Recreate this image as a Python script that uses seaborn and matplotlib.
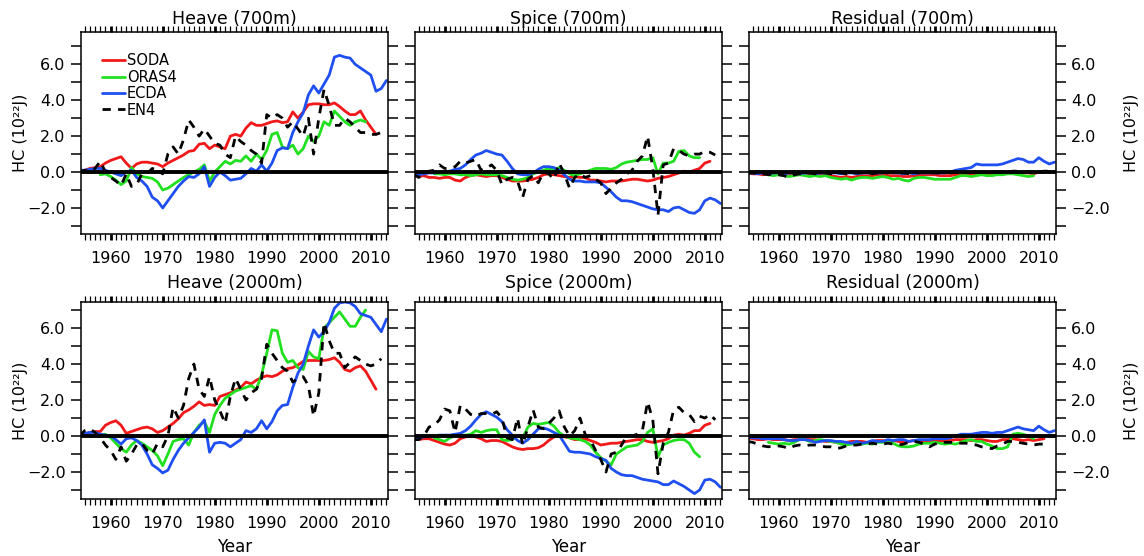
import numpy as np
import pandas as pd
import matplotlib
matplotlib.use('Agg')  # no display in the sandbox
import matplotlib.pyplot as plt
from matplotlib.ticker import MultipleLocator, FuncFormatter
import seaborn as sns

# year axes of each product
SODA_YEARS = np.arange(1954, 2012)
ORAS4_YEARS = np.arange(1958, 2010)
ECDA_YEARS = np.arange(1954, 2014)
EN4_YEARS = np.arange(1954, 2013)

PRODUCTS = ['SODA', 'ORAS4', 'ECDA', 'EN4']
COLORS = {'SODA': '#f01818', 'ORAS4': '#20e020', 'ECDA': '#1f4ff0', 'EN4': '#000000'}

# ---- Heave (700m) ----
heave700_soda = [0.0, 0.1, 0.2, 0.25, 0.3, 0.5,
                 0.65, 0.75, 0.85, 0.5, 0.2, 0.45, 0.55, 0.55, 0.5, 0.45,
                 0.3, 0.5, 0.65, 0.8, 0.95, 1.15, 1.2, 1.55, 1.6, 1.3,
                 1.5, 1.4, 1.3, 2.0, 2.1, 2.0, 2.45, 2.75, 2.6, 2.6,
                 2.7, 2.8, 2.85, 2.75, 2.8, 3.35, 3.0, 3.35, 3.75, 3.8,
                 3.8, 3.75, 3.75, 3.85, 3.65, 3.4, 3.2, 3.2, 3.4, 2.9,
                 2.5, 2.1]
heave700_oras4 = [-0.15, -0.1,
                  -0.25, -0.45, -0.7, -0.5, 0.25, -0.1, -0.25, -0.3, -0.35, -0.55,
                  -1.0, -0.9, -0.7, -0.5, -0.3, -0.15, 0.0, 0.15, 0.4, -0.5,
                  0.0, 0.3, 0.6, 0.45, 0.65, 0.6, 0.9, 0.6, 1.0, 0.7,
                  1.2, 2.1, 2.2, 1.4, 1.3, 1.5, 1.0, 1.3, 2.0, 1.7,
                  2.0, 2.8, 2.6, 3.4, 3.1, 2.8, 2.6, 2.8, 2.9, 2.8]
heave700_ecda = [0.1, 0.1, 0.15, 0.2, 0.2, 0.1,
                 0.0, -0.1, -0.2, 0.0, 0.1, -0.3, -0.5, -0.8, -1.4, -1.6,
                 -2.0, -1.6, -1.2, -0.8, -0.5, -0.25, -0.3, -0.1, 0.3, -0.8,
                 -0.3, 0.0, -0.2, -0.45, -0.4, -0.35, -0.1, 0.2, 0.05, 0.4,
                 0.05, 0.5, 1.2, 1.35, 1.3, 2.2, 2.8, 3.3, 4.3, 4.8,
                 4.4, 4.9, 5.4, 6.4, 6.5, 6.4, 6.35, 6.0, 5.8, 5.6,
                 5.4, 4.5, 4.65, 5.1]
heave700_en4 = [0.0, 0.1, 0.0, 0.2, 0.6, 0.0,
                -0.3, -0.5, -0.75, -0.1, -0.8, -0.7, -0.1, -0.1, 0.2, 0.1,
                -0.1, 1.0, 1.4, 1.0, 1.8, 2.9, 2.5, 2.0, 2.4, 2.0,
                1.6, 1.5, 1.0, 0.8, 2.0, 1.7, 1.5, 1.2, 1.0, 0.5,
                3.2, 3.0, 3.2, 3.0, 2.5, 2.8, 2.4, 2.0, 3.0, 1.0,
                3.0, 4.6, 3.7, 2.6, 2.6, 3.0, 2.8, 2.5, 2.2, 2.2,
                2.1, 2.1, 2.2]

# ---- Spice (700m) ----
spice700_soda = [-0.2, -0.25, -0.2, -0.3, -0.3, -0.35,
                 -0.3, -0.3, -0.45, -0.5, -0.3, -0.2, -0.15, -0.2, -0.25, -0.2,
                 -0.2, -0.3, -0.4, -0.5, -0.5, -0.5, -0.45, -0.4, -0.3, -0.15,
                 -0.1, -0.15, -0.2, -0.25, -0.3, -0.25, -0.3, -0.3, -0.45, -0.45,
                 -0.5, -0.55, -0.5, -0.5, -0.5, -0.45, -0.4, -0.4, -0.45, -0.5,
                 -0.45, -0.35, -0.3, -0.25, -0.15, -0.05, 0.05, 0.0, 0.1, 0.2,
                 0.5, 0.6]
spice700_oras4 = [-0.1, -0.1,
                  -0.15, -0.1, -0.1, -0.15, -0.15, -0.2, -0.15, -0.1, -0.15, -0.15,
                  -0.15, -0.2, -0.3, -0.4, -0.45, -0.4, -0.3, -0.1, 0.0, 0.1,
                  0.2, 0.1, 0.25, 0.1, -0.1, -0.2, -0.1, 0.0, 0.1, 0.2,
                  0.2, 0.2, 0.15, 0.25, 0.45, 0.55, 0.6, 0.65, 0.7, 0.7,
                  0.8, -0.1, 0.5, 0.5, 0.6, 1.15, 1.2, 0.9, 0.8, 0.8]
spice700_ecda = [-0.1, -0.15, -0.1, -0.05, -0.05, 0.0,
                 0.0, 0.05, 0.15, 0.2, 0.4, 0.7, 0.95, 1.05, 1.2, 1.1,
                 1.0, 0.95, 0.6, 0.2, -0.1, -0.15, -0.15, -0.05, 0.15, 0.3,
                 0.3, 0.25, 0.1, -0.15, -0.4, -0.5, -0.5, -0.55, -0.55, -0.55,
                 -0.6, -0.85, -1.1, -1.4, -1.6, -1.6, -1.65, -1.75, -1.85, -1.95,
                 -2.05, -2.1, -2.1, -2.2, -2.0, -1.95, -2.1, -2.25, -2.3, -2.1,
                 -1.6, -1.45, -1.55, -1.75]
spice700_en4 = [-0.1, -0.3, -0.1, 0.05, 0.1, 0.4,
                0.2, 0.2, 0.3, 0.6, 0.5, 0.6, 0.7, 0.1, 0.2, 0.4,
                0.1, -0.7, -0.4, -0.3, -0.5, -1.4, -0.4, -0.2, -0.6, 0.0,
                -0.1, -0.4, 0.5, -0.1, -0.9, -0.3, -0.1, -0.3, -0.2, -0.4,
                -0.6, -1.2, -0.9, -0.6, -0.4, -0.1, 0.1, 0.6, 0.9, 2.0,
                0.2, -2.4, 0.4, 0.5, 1.3, 1.2, 1.0, 0.9, 1.0, 1.0,
                1.15, 1.1, 0.95]

# ---- Residual (700m) ----
resid700_soda = [-0.05, -0.1, -0.1, -0.15, -0.1, -0.1,
                 -0.1, -0.15, -0.15, -0.1, -0.1, -0.1, -0.15, -0.1, -0.1, -0.15,
                 -0.2, -0.25, -0.3, -0.25, -0.3, -0.25, -0.2, -0.2, -0.2, -0.15,
                 -0.15, -0.2, -0.2, -0.2, -0.25, -0.25, -0.2, -0.2, -0.15, -0.15,
                 -0.15, -0.2, -0.2, -0.2, -0.15, -0.15, -0.1, -0.1, -0.1, -0.1,
                 -0.1, -0.1, -0.1, -0.1, -0.05, -0.05, -0.1, -0.05, -0.05, -0.1,
                 0.0, 0.0]
resid700_oras4 = [-0.15, -0.2,
                  -0.15, -0.2, -0.25, -0.2, -0.15, -0.2, -0.25, -0.2, -0.25, -0.2,
                  -0.3, -0.35, -0.4, -0.35, -0.45, -0.35, -0.3, -0.3, -0.35, -0.3,
                  -0.25, -0.3, -0.4, -0.35, -0.45, -0.5, -0.35, -0.3, -0.3, -0.35,
                  -0.4, -0.4, -0.4, -0.4, -0.3, -0.2, -0.2, -0.25, -0.2, -0.15,
                  -0.2, -0.2, -0.15, -0.15, -0.1, -0.1, -0.15, -0.2, -0.25, -0.2]
resid700_ecda = [-0.05, -0.05, -0.1, -0.05, -0.1, -0.05,
                 -0.05, -0.1, -0.05, -0.05, -0.1, -0.05, -0.05, -0.1, -0.05, -0.05,
                 -0.05, -0.05, -0.1, -0.05, -0.05, -0.1, -0.05, -0.05, -0.05, -0.05,
                 -0.05, 0.0, -0.05, -0.05, -0.1, -0.05, -0.1, -0.05, -0.05, -0.05,
                 -0.05, -0.05, -0.05, 0.0, 0.1, 0.15, 0.2, 0.25, 0.45, 0.4,
                 0.4, 0.4, 0.4, 0.45, 0.55, 0.65, 0.75, 0.7, 0.55, 0.55,
                 0.8, 0.6, 0.45, 0.55]
resid700_en4 = [-0.05, -0.05, -0.1, -0.1, -0.15, -0.1,
                -0.15, -0.2, -0.3, -0.15, -0.1, -0.1, -0.05, -0.1, -0.05, -0.05,
                -0.1, -0.05, -0.05, -0.1, -0.05, -0.05, -0.05, -0.05, -0.1, -0.05,
                0.0, -0.05, 0.0, -0.05, -0.05, -0.1, -0.05, -0.05, 0.0, -0.05,
                -0.05, -0.05, 0.0, -0.05, 0.0, 0.0, 0.0, -0.05, 0.0, 0.0,
                0.0, 0.05, 0.0, 0.0, 0.0, 0.05, 0.05, 0.0, 0.0, 0.05,
                0.0, 0.05, 0.05]

# ---- Heave (2000m) ----
heave2000_soda = [0.05, 0.1, 0.2, 0.25, 0.25, 0.6,
                  0.75, 0.85, 0.6, 0.15, 0.25, 0.35, 0.45, 0.5, 0.4, 0.2,
                  0.3, 0.5, 0.7, 0.95, 1.3, 1.45, 1.65, 1.9, 1.7, 1.75,
                  1.7, 2.2, 2.3, 2.4, 2.55, 2.7, 3.0, 2.9, 3.1, 3.25,
                  3.35, 3.3, 3.4, 3.6, 3.75, 3.8, 3.95, 4.15, 4.2, 4.2,
                  4.2, 4.2, 4.25, 4.35, 4.1, 3.7, 3.6, 3.8, 3.9, 3.6,
                  3.1, 2.6]
heave2000_oras4 = [0.05, 0.1,
                   -0.1, -0.4, -0.7, -0.9, -0.5, -0.25, -0.4, -0.6, -0.8, -1.1,
                   -1.65, -1.0, -0.3, -0.2, -0.15, -0.5, 0.2, 0.6, 0.8, 0.2,
                   1.2, 1.7, 2.1, 2.3, 2.5, 2.6, 2.7, 2.8, 2.6, 3.4,
                   4.6, 5.9, 5.85, 4.6, 4.1, 4.2, 3.8, 3.7, 4.7, 4.4,
                   4.3, 6.0, 6.3, 6.6, 6.9, 6.5, 6.1, 6.1, 6.6, 7.0]
heave2000_ecda = [0.1, 0.15, 0.2, 0.2, 0.1, 0.05,
                  0.0, -0.2, -0.45, -0.15, -0.1, -0.25, -0.5, -1.0, -1.6, -1.8,
                  -2.05, -1.9, -1.3, -0.8, -0.4, -0.1, 0.2, 0.5, 0.9, -0.9,
                  -0.4, -0.35, -0.4, -0.6, -0.4, -0.2, 0.3, 0.2, 0.4, 0.85,
                  0.4, 0.8, 1.4, 1.7, 1.75, 2.7, 3.5, 4.0, 5.0, 5.9,
                  5.5, 5.8, 6.3, 7.1, 7.4, 7.45, 7.4, 7.2, 6.8, 6.7,
                  6.6, 6.2, 5.8, 6.5]
heave2000_en4 = [0.0, 0.3, 0.4, 0.2, -0.1, -0.5,
                 -0.8, -1.3, -0.6, -1.4, -1.0, -0.5, -0.4, -0.8, -1.0, -0.4,
                 -0.6, 0.0, 1.6, 1.0, 1.7, 3.2, 4.0, 2.6, 2.2, 3.3,
                 2.0, 1.4, 0.7, 2.2, 3.2, 2.6, 2.0, 2.4, 2.6, 3.2,
                 5.1, 4.6, 4.2, 3.8, 3.6, 3.0, 3.2, 3.3, 2.8, 1.1,
                 2.4, 6.3, 5.3, 4.6, 4.6, 3.8, 4.1, 4.4, 4.2, 4.0,
                 3.9, 4.0, 4.3]

# ---- Spice (2000m) ----
spice2000_soda = [-0.15, -0.2, -0.15, -0.15, -0.25, -0.35,
                  -0.45, -0.5, -0.4, -0.15, -0.05, 0.0, -0.05, -0.15, -0.3, -0.25,
                  -0.25, -0.3, -0.45, -0.6, -0.7, -0.75, -0.7, -0.7, -0.65, -0.5,
                  -0.25, -0.05, 0.0, -0.05, -0.1, -0.2, -0.2, -0.15, -0.25, -0.35,
                  -0.5, -0.45, -0.4, -0.4, -0.35, -0.3, -0.25, -0.2, -0.2, -0.3,
                  -0.35, -0.3, -0.25, -0.15, 0.05, 0.1, 0.05, 0.15, 0.3, 0.3,
                  0.6, 0.7]
spice2000_oras4 = [-0.1, -0.2,
                   -0.3, -0.1, 0.0, 0.05, 0.05, 0.1, 0.3, 0.2, 0.3, 0.35,
                   0.35, -0.2, -0.25, -0.2, 0.0, -0.1, 0.5, 0.7, 0.65, 0.7,
                   0.75, 0.55, 0.2, 0.0, -0.1, -0.15, -0.2, -0.3, -0.5, -0.9,
                   -1.2, -1.4, -1.6, -1.0, -0.8, -0.6, -0.55, -0.5, -0.3, 0.2,
                   0.4, -1.15, -0.5, -0.35, -0.25, -0.2, -0.2, -0.4, -0.9, -1.15]
spice2000_ecda = [-0.1, -0.1, -0.05, 0.0, 0.0, 0.05,
                  0.05, 0.05, 0.1, 0.15, 0.3, 0.55, 0.9, 1.2, 1.35, 1.2,
                  1.05, 0.8, 0.35, 0.05, -0.25, -0.4, -0.2, 0.1, 0.4, 0.45,
                  0.35, 0.2, 0.05, -0.4, -0.85, -0.9, -0.9, -0.95, -1.0, -1.15,
                  -1.25, -1.35, -1.8, -2.0, -2.15, -2.2, -2.2, -2.3, -2.4, -2.45,
                  -2.5, -2.55, -2.7, -2.7, -2.5, -2.65, -2.8, -3.0, -3.2, -3.0,
                  -2.45, -2.4, -2.55, -2.85]
spice2000_en4 = [-0.2, -0.2, 0.0, 0.5, 0.6, 0.9,
                 1.5, 1.4, 0.2, 1.7, 1.5, 1.2, 1.1, 1.25, 1.25, 1.2,
                 1.35, 1.0, -0.1, -0.2, 1.0, -0.5, 0.5, 1.45, 0.5, 0.4,
                 0.7, 1.0, 1.4, 0.5, 0.0, 0.3, 1.0, 0.1, -0.2, -0.8,
                 -1.3, -2.0, -1.0, -0.9, -0.5, 0.0, 0.0, 0.1, 0.3, 1.9,
                 0.9, -2.1, -0.4, 0.2, 1.45, 1.6, 1.3, 1.2, 0.8, 1.1,
                 1.0, 1.2, 0.9]

# ---- Residual (2000m) ----
resid2000_soda = [-0.1, -0.15, -0.2, -0.2, -0.15, -0.2,
                  -0.2, -0.2, -0.25, -0.2, -0.2, -0.15, -0.2, -0.2, -0.25, -0.3,
                  -0.3, -0.35, -0.4, -0.35, -0.3, -0.3, -0.3, -0.35, -0.3, -0.25,
                  -0.25, -0.3, -0.25, -0.3, -0.35, -0.3, -0.25, -0.25, -0.3, -0.25,
                  -0.25, -0.3, -0.25, -0.25, -0.2, -0.2, -0.2, -0.25, -0.2, -0.2,
                  -0.25, -0.3, -0.3, -0.2, -0.2, -0.15, -0.2, -0.25, -0.2, -0.25,
                  -0.2, -0.15]
resid2000_oras4 = [-0.35, -0.4,
                   -0.45, -0.4, -0.45, -0.35, -0.2, -0.2, -0.3, -0.25, -0.2, -0.25,
                   -0.3, -0.35, -0.45, -0.5, -0.45, -0.4, -0.45, -0.4, -0.45, -0.35,
                   -0.35, -0.3, -0.4, -0.55, -0.6, -0.6, -0.55, -0.45, -0.4, -0.4,
                   -0.35, -0.4, -0.45, -0.4, -0.45, -0.35, -0.25, -0.2, -0.3, -0.3,
                   -0.45, -0.55, -0.7, -0.7, -0.6, 0.1, 0.15, 0.1, 0.0, -0.15]
resid2000_ecda = [-0.05, -0.1, -0.1, -0.15, -0.15, -0.15,
                  -0.15, -0.2, -0.25, -0.25, -0.2, -0.2, -0.25, -0.35, -0.3, -0.25,
                  -0.25, -0.3, -0.3, -0.35, -0.4, -0.3, -0.4, -0.35, -0.25, -0.3,
                  -0.3, -0.2, -0.25, -0.2, -0.2, -0.3, -0.25, -0.2, -0.2, -0.2,
                  -0.15, -0.15, -0.15, -0.1, 0.0, 0.1, 0.1, 0.1, 0.15, 0.2,
                  0.2, 0.15, 0.2, 0.2, 0.3, 0.4, 0.5, 0.4, 0.35, 0.3,
                  0.55, 0.35, 0.2, 0.3]
resid2000_en4 = [-0.3, -0.35, -0.45, -0.55, -0.6, -0.55,
                 -0.55, -0.6, -0.7, -0.55, -0.5, -0.55, -0.5, -0.5, -0.55, -0.6,
                 -0.6, -0.7, -0.65, -0.55, -0.5, -0.5, -0.45, -0.45, -0.4, -0.45,
                 -0.45, -0.4, -0.45, -0.5, -0.45, -0.35, -0.3, -0.35, -0.45, -0.6,
                 -0.45, -0.35, -0.35, -0.35, -0.35, -0.4, -0.4, -0.45, -0.5, -0.6,
                 -0.65, -0.7, -0.55, -0.45, -0.3, -0.3, -0.35, -0.4, -0.45, -0.5,
                 -0.45, -0.45, -0.4]

PANELS = [
    ('Heave (700m)', [heave700_soda, heave700_oras4, heave700_ecda, heave700_en4]),
    ('Spice (700m)', [spice700_soda, spice700_oras4, spice700_ecda, spice700_en4]),
    ('Residual (700m)', [resid700_soda, resid700_oras4, resid700_ecda, resid700_en4]),
    ('Heave (2000m)', [heave2000_soda, heave2000_oras4, heave2000_ecda, heave2000_en4]),
    ('Spice (2000m)', [spice2000_soda, spice2000_oras4, spice2000_ecda, spice2000_en4]),
    ('Residual (2000m)', [resid2000_soda, resid2000_oras4, resid2000_ecda, resid2000_en4]),
]
YEARS = [SODA_YEARS, ORAS4_YEARS, ECDA_YEARS, EN4_YEARS]
YLABEL = 'HC (10\u00b2\u00b2J)'


def to_frame(series):
    parts = []
    for name, yrs, vals in zip(PRODUCTS, YEARS, series):
        parts.append(pd.DataFrame({'Year': yrs, 'HC': vals, 'Product': name}))
    return pd.concat(parts, ignore_index=True)


sns.set_theme(style='ticks')
plt.rcParams['font.family'] = ['DejaVu Sans']
plt.rcParams.update({'axes.linewidth': 1.1, 'text.color': 'black',
                     'axes.labelcolor': 'black', 'axes.edgecolor': 'black',
                     'xtick.color': 'black', 'ytick.color': 'black'})

fig = plt.figure(figsize=(11.44, 5.56), dpi=100)

col_left = [81 / 1144, 415 / 1144, 749 / 1144]
col_w = 307 / 1144
row_bottom = [1 - 234 / 556, 1 - 499 / 556]
row_h = [202 / 556, 197 / 556]
row_ylim = [(-3.45, 7.8), (-3.5, 7.45)]
title_pad = [6, 10]

fmt = FuncFormatter(lambda v, p: f'{v:.1f}'.replace('-', '\u2212'))

for i, (title, series) in enumerate(PANELS):
    r, c = divmod(i, 3)
    ax = fig.add_axes([col_left[c], row_bottom[r], col_w, row_h[r]])
    df = to_frame(series)
    sns.lineplot(data=df, x='Year', y='HC', hue='Product', style='Product',
                 hue_order=PRODUCTS, style_order=PRODUCTS, palette=COLORS,
                 dashes={'SODA': '', 'ORAS4': '', 'ECDA': '', 'EN4': (3, 2.6)},
                 linewidth=2.0, estimator=None, ax=ax, legend=(i == 0))
    ax.axhline(0, color='black', lw=2.8, zorder=5)

    ax.set_xlim(1954.3, 2013.3)
    ax.set_ylim(*row_ylim[r])
    ax.set_title(title, fontsize=12.5, pad=title_pad[r])

    ax.xaxis.set_major_locator(MultipleLocator(10))
    ax.xaxis.set_minor_locator(MultipleLocator(1))
    ax.yaxis.set_major_locator(MultipleLocator(2))
    ax.yaxis.set_minor_locator(MultipleLocator(1))
    ax.yaxis.set_major_formatter(fmt)
    ax.tick_params(axis='x', which='both', direction='out', top=True, bottom=True,
                   labelsize=11.5, length=4.5, pad=8)
    ax.tick_params(axis='x', which='major', width=2.0)
    ax.tick_params(axis='x', which='minor', width=0.9)
    ax.tick_params(axis='y', which='both', direction='out', left=True, right=True,
                   length=7, width=1.1, labelsize=11.5, pad=4)
    ax.tick_params(axis='y', labelleft=(c == 0), labelright=(c == 2))

    if c == 0:
        ax.set_ylabel(YLABEL, fontsize=11.5, labelpad=-1)
    elif c == 2:
        ax.yaxis.set_label_position('right')
        ax.set_ylabel(YLABEL, fontsize=11.5, labelpad=10, rotation=90)
    else:
        ax.set_ylabel('')
    ax.set_xlabel('Year' if r == 1 else '', fontsize=12, labelpad=5)

    if i == 0:
        ax.legend(loc='upper left', bbox_to_anchor=(0.068, 0.895), frameon=False,
                  fontsize=10.5, handlelength=1.6, handletextpad=0.1,
                  labelspacing=0.1, borderpad=0, borderaxespad=0)

fig.savefig('out.png', dpi=100)
